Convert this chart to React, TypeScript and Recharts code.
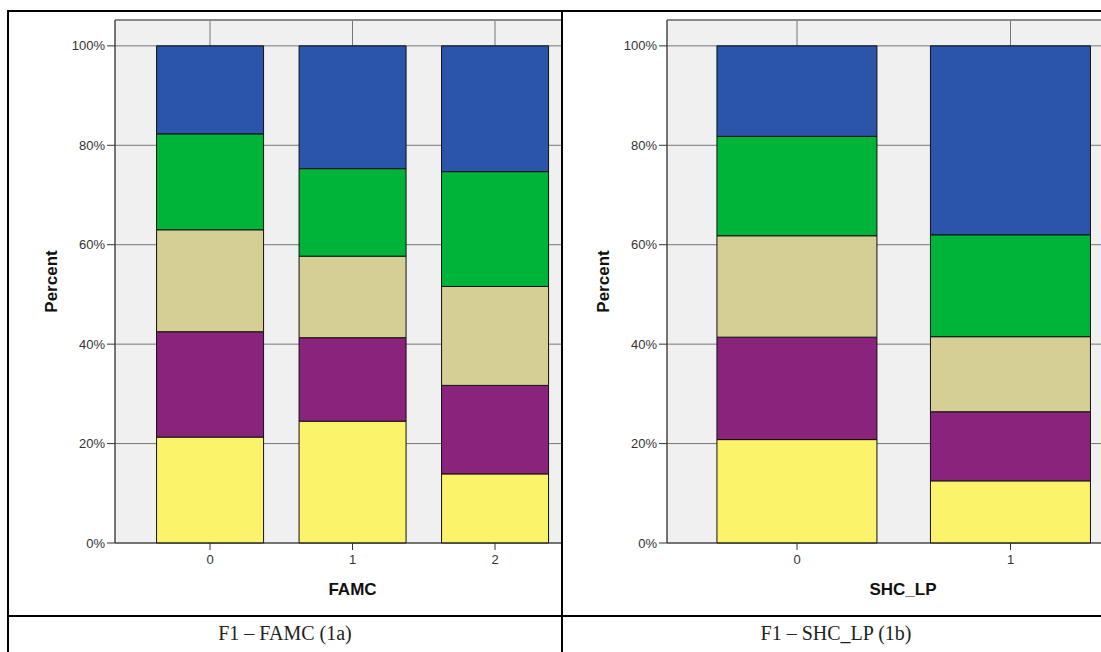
import React from 'react';
import { BarChart, Bar, XAxis, YAxis, CartesianGrid, ReferenceLine, Label } from 'recharts';

// stacked shares (percent) per category, bottom segment first
const famcCategories = ['0', '1', '2'];
const famcLevel1 = [21.3, 24.5, 13.9];
const famcLevel2 = [21.2, 16.8, 17.8];
const famcLevel3 = [20.5, 16.4, 19.9];
const famcLevel4 = [19.3, 17.6, 23.1];
const famcLevel5 = [17.7, 24.7, 25.3];

const shcCategories = ['0', '1'];
const shcLevel1 = [20.8, 12.5];
const shcLevel2 = [20.6, 13.9];
const shcLevel3 = [20.4, 15.1];
const shcLevel4 = [20.0, 20.5];
const shcLevel5 = [18.2, 38.0];

const yTicks = [0, 20, 40, 60, 80, 100];
const Y_MAX = 105.2;

const levelColors = ['#FBF46B', '#8A237C', '#D5CE95', '#00B43A', '#2A55AB'];

const SANS = '"Liberation Sans", Arial, sans-serif';

const buildRows = (categories: string[], levels: number[][]) =>
  categories.map((c, i) => {
    const row: Record<string, string | number> = { name: c };
    levels.forEach((vals, j) => {
      row['level' + (j + 1)] = vals[i];
    });
    return row;
  });

interface ChartProps {
  categories: string[];
  levels: number[][];
  xTitle: string;
  width: number;
  yAxisWidth: number;
  padLeft: number;
  padRight: number;
  yTitleX: number;
}

const StackedPercentChart: React.FC<ChartProps> = ({ categories, levels, xTitle, width, yAxisWidth, padLeft, padRight, yTitleX }) => {
  const data = buildRows(categories, levels);

  const xTitleContent = (props: any) => {
    const { x, y, width: w } = props.viewBox;
    return (
      <text x={x + w / 2} y={y + 52} textAnchor="middle" fontFamily={SANS} fontSize={17} fontWeight="bold" fill="#111">
        {xTitle}
      </text>
    );
  };

  const yTitleContent = (props: any) => {
    const { y, height } = props.viewBox;
    const cy = y + height / 2;
    return (
      <text
        x={yTitleX}
        y={cy}
        transform={`rotate(-90, ${yTitleX}, ${cy})`}
        textAnchor="middle"
        dominantBaseline="central"
        fontFamily={SANS}
        fontSize={17}
        fontWeight="bold"
        fill="#111"
      >
        Percent
      </text>
    );
  };

  return (
    <BarChart width={width} height={603} data={data} margin={{ top: 8, right: 0, bottom: 0, left: 0 }} barCategoryGap="12.5%">
      <CartesianGrid fill="#F0F0F0" stroke="#777" />
      <XAxis
        dataKey="name"
        height={72}
        padding={{ left: padLeft, right: padRight }}
        tickSize={7}
        tickMargin={5}
        stroke="#333"
        tick={{ fill: '#333', fontSize: 13, fontFamily: SANS }}
      >
        <Label content={xTitleContent} />
      </XAxis>
      <YAxis
        width={yAxisWidth}
        domain={[0, Y_MAX]}
        ticks={yTicks}
        tickFormatter={(v: number) => `${v}%`}
        tickSize={8}
        tickMargin={2}
        stroke="#333"
        tick={{ fill: '#333', fontSize: 13, fontFamily: SANS }}
      >
        <Label content={yTitleContent} />
      </YAxis>
      <ReferenceLine y={Y_MAX} stroke="#8a8a8a" strokeWidth={2} />
      {levels.map((_, j) => (
        <Bar
          key={j}
          dataKey={'level' + (j + 1)}
          stackId="pct"
          fill={levelColors[j]}
          stroke="#111"
          strokeWidth={1}
          isAnimationActive={false}
        />
      ))}
    </BarChart>
  );
};

const line = (style: React.CSSProperties) => <div style={{ position: 'absolute', background: '#000', ...style }} />;

export default function App() {
  return (
    <div style={{ position: 'absolute', left: 0, top: 0, width: 1101, height: 652, background: '#fff', overflow: 'hidden' }}>
      <div style={{ position: 'absolute', left: 9, top: 12, width: 552, height: 603, overflow: 'hidden' }}>
        <StackedPercentChart
          categories={famcCategories}
          levels={[famcLevel1, famcLevel2, famcLevel3, famcLevel4, famcLevel5]}
          xTitle="FAMC"
          width={581}
          yAxisWidth={106}
          padLeft={23.75}
          padRight={23.75}
          yTitleX={42}
        />
      </div>
      <div style={{ position: 'absolute', left: 563, top: 12, width: 538, height: 603, overflow: 'hidden' }}>
        <StackedPercentChart
          categories={shcCategories}
          levels={[shcLevel1, shcLevel2, shcLevel3, shcLevel4, shcLevel5]}
          xTitle="SHC_LP"
          width={576}
          yAxisWidth={104}
          padLeft={23.25}
          padRight={21.75}
          yTitleX={40}
        />
      </div>

      {line({ left: 7, top: 10, width: 1094, height: 2 })}
      {line({ left: 7, top: 10, width: 2, height: 642 })}
      {line({ left: 561, top: 10, width: 2, height: 642 })}
      {line({ left: 7, top: 615, width: 1094, height: 2 })}

      <div style={{ position: 'absolute', left: 9, top: 622, width: 552, textAlign: 'center', fontFamily: '"Liberation Serif", serif', fontSize: 20, color: '#222' }}>
        F1 – FAMC (1a)
      </div>
      <div style={{ position: 'absolute', left: 563, top: 622, width: 546, textAlign: 'center', fontFamily: '"Liberation Serif", serif', fontSize: 20, color: '#222' }}>
        F1 – SHC_LP (1b)
      </div>
    </div>
  );
}
